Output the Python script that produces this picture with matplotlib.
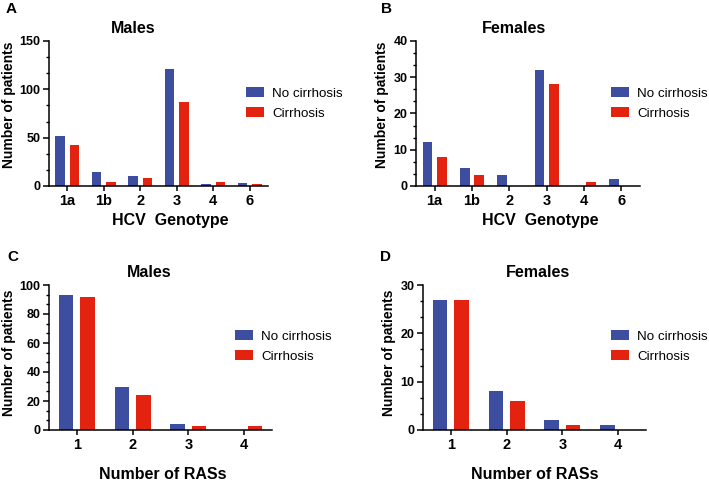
import numpy as np
import matplotlib.pyplot as plt
from matplotlib.ticker import AutoMinorLocator, MultipleLocator

plt.rcParams['font.family'] = ['Liberation Sans', 'DejaVu Sans']

# --- data ---
genotypes = ['1a', '1b', '2', '3', '4', '6']
males_geno_no = [52, 15, 10, 121, 2, 3]
males_geno_cirr = [42, 4, 8, 87, 4, 2]
females_geno_no = [12, 5, 3, 32, 0, 2]
females_geno_cirr = [8, 3, 0, 28, 1, 0]

ras_counts = ['1', '2', '3', '4']
males_ras_no = [93, 30, 4, 0]
males_ras_cirr = [92, 24, 3, 3]
females_ras_no = [27, 8, 2, 1]
females_ras_cirr = [27, 6, 1, 0]

BLUE = '#3D4DA0'
RED = '#E3220F'

W, H = 709, 484
fig = plt.figure(figsize=(W / 100, H / 100), dpi=100)


def px_axes(left, top, right, bottom):
    return fig.add_axes([left / W, 1 - bottom / H, (right - left) / W, (bottom - top) / H])


def panel(ax, cats, no, cirr, title, ymax, ymajor, xlabel, labelpad,
          leg_xy, title_x, xlab_x, ylab_y):
    x = np.arange(len(cats))
    w = 0.26
    ax.bar(x - 0.195, no, w, color=BLUE, label='No cirrhosis')
    ax.bar(x + 0.195, cirr, w, color=RED, label='Cirrhosis')
    ax.set_xlim(-0.5, len(cats) - 0.5)
    ax.set_ylim(0, ymax)
    ax.yaxis.set_major_locator(MultipleLocator(ymajor))
    ax.yaxis.set_minor_locator(AutoMinorLocator(3))
    ax.set_xticks(x)
    ax.set_xticklabels(cats, fontsize=10.5, fontweight='bold')
    for lab in ax.get_yticklabels():
        lab.set_fontweight('bold')
        lab.set_fontsize(9)
    ax.spines['top'].set_visible(False)
    ax.spines['right'].set_visible(False)
    for s in ('left', 'bottom'):
        ax.spines[s].set_linewidth(1.1)
    ax.tick_params(axis='both', which='major', width=1.1, length=4, pad=2)
    ax.tick_params(axis='y', which='minor', width=1.0, length=2.5)
    ax.tick_params(axis='x', which='major', length=3.5)
    ax.set_title(title, fontsize=11.5, fontweight='bold', pad=6, x=title_x)
    ax.set_ylabel('Number of patients', fontsize=10, fontweight='bold',
                  labelpad=3, y=ylab_y)
    ax.set_xlabel(xlabel, fontsize=11.5, fontweight='bold',
                  labelpad=labelpad, x=xlab_x)
    ax.legend(loc='upper left', bbox_to_anchor=(leg_xy[0] / W, 1 - leg_xy[1] / H),
              bbox_transform=fig.transFigure, frameon=False, fontsize=9.6,
              handlelength=1.35, handleheight=0.8, handletextpad=0.6,
              labelspacing=0.55, borderpad=0, borderaxespad=0)


axA = px_axes(49, 41, 268, 186)
panel(axA, genotypes, males_geno_no, males_geno_cirr, 'Males', 150, 50,
      'HCV  Genotype', 4, (246, 87), (133 - 49) / 219, 0.552, 0.56)
axB = px_axes(416, 41, 640, 186)
panel(axB, genotypes, females_geno_no, females_geno_cirr, 'Females', 40, 10,
      'HCV  Genotype', 4, (611, 87), (514 - 416) / 224, 0.553, 0.56)
axC = px_axes(49, 285, 272, 430)
panel(axC, ras_counts, males_ras_no, males_ras_cirr, 'Males', 100, 20,
      'Number of RASs', 11, (235, 330), (149 - 49) / 223, 0.51, 0.53)
axD = px_axes(423, 285, 646, 430)
panel(axD, ras_counts, females_ras_no, females_ras_cirr, 'Females', 30, 10,
      'Number of RASs', 11, (611, 330), (538 - 423) / 223, 0.5, 0.53)

for letter, (lx, ly) in zip('ABCD', [(11, 9), (387, 9), (13, 257), (385, 257)]):
    fig.text(lx / W, 1 - ly / H, letter, fontsize=11, fontweight='bold',
             ha='center', va='center')

fig.savefig('out.png', dpi=100)
